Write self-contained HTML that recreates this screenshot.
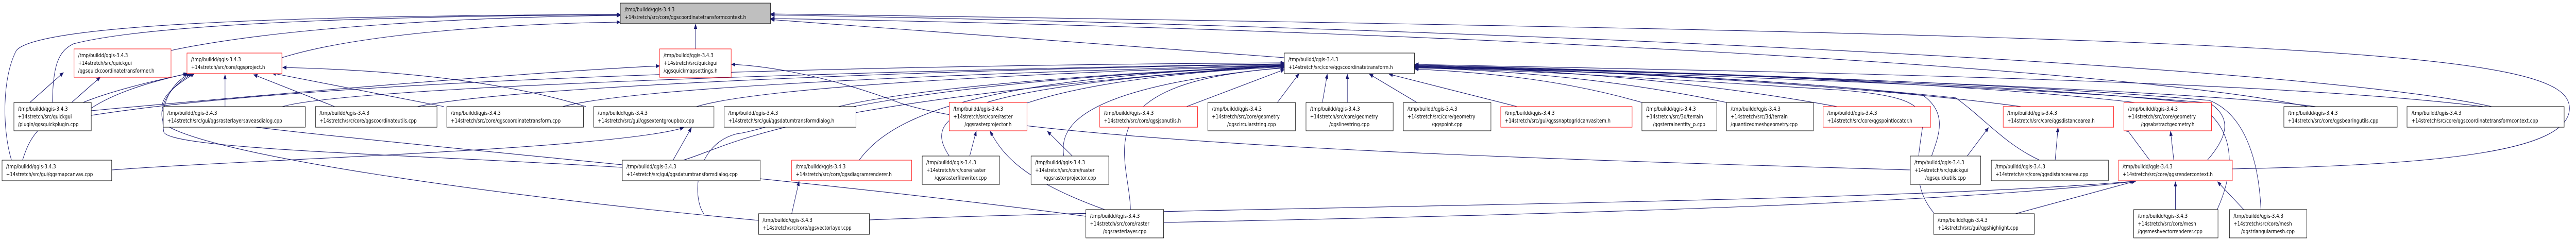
<!DOCTYPE html>
<html><head><meta charset="utf-8"><meta name="viewport" content="width=6296, initial-scale=1"><style>
html,body{margin:0;padding:0;background:#fff;width:100%;height:100%;overflow:hidden;}
svg{display:block;position:absolute;left:0;top:0;width:100vw;height:100vh;}
text{font-family:"DejaVu Sans","Liberation Sans",sans-serif;font-size:11px;fill:#000;}
.e{fill:none;stroke:#191970;stroke-width:1.1;marker-end:url(#a);}
.n{fill:#fff;stroke:#000;stroke-width:1;}
.r{fill:#fff;stroke:#ff0000;stroke-width:1;}
.g{fill:#bfbfbf;stroke:#000;stroke-width:1;}
</style></head><body>
<svg viewBox="0 0 6296 468" preserveAspectRatio="none" xmlns="http://www.w3.org/2000/svg">
<defs><marker id="a" markerWidth="10" markerHeight="8" refX="9" refY="4" orient="auto" markerUnits="userSpaceOnUse"><path d="M0,0 L10,4 L0,8 z" fill="#191970"/></marker></defs>

<path class="e" d="M418,98 C700,50 1200,32 1516,30"/>
<path class="e" d="M689,112 C900,60 1300,45 1516,43"/>
<path class="e" d="M1700,95 L1700,47"/>
<path class="e" d="M3139,112 C2600,80 2100,50 1884,38"/>
<path class="e" d="M128,199 C130,130 140,100 180,85 C400,40 1100,30 1516,29"/>
<path class="e" d="M28,311 C5,250 5,150 40,98 C100,40 900,30 1516,28"/>
<path class="e" d="M5456,328 C6000,320 6280,290 6280,210 C6280,100 5700,70 1884,27"/>
<path class="e" d="M6090,207 C5600,120 3400,50 1884,29"/>
<path class="e" d="M5640,207 C5200,130 3400,55 1884,36"/>

<path class="e" d="M73,199 L155,141"/>
<path class="e" d="M223,210 C300,170 420,150 457,143"/>
<path class="e" d="M550,207 L550,145"/>
<path class="e" d="M818,207 L620,145"/>
<path class="e" d="M1085,207 L665,142"/>
<path class="e" d="M1432,207 C1200,150 900,135 691,131"/>
<path class="e" d="M55,311 C80,250 110,200 460,143"/>
<path class="e" d="M1521,325 C1000,300 400,290 400,255 C390,200 420,160 465,143"/>
<path class="e" d="M1854,428 C1200,380 500,300 400,240 C380,200 430,160 470,143"/>
<path class="e" d="M2654,420 C1800,330 600,260 400,220 C380,190 440,160 475,143"/>

<path class="e" d="M175,199 L245,150"/>

<path class="e" d="M223,215 C700,180 1300,140 1612,128"/>
<path class="e" d="M4669,330 C3800,310 2500,280 2200,200 C2000,140 1850,127 1788,125"/>

<path class="e" d="M273,330 C600,310 1500,290 1671,248"/>
<path class="e" d="M1645,311 L1690,248"/>

<path class="e" d="M1935,415 L1953,352"/>
<path class="e" d="M2370,303 L2386,255"/>
<path class="e" d="M2621,303 L2560,255"/>
<path class="e" d="M2700,407 C2500,350 2450,300 2420,255"/>

<path class="e" d="M4808,303 L4860,248"/>
<path class="e" d="M5023,311 L5030,248"/>
<path class="e" d="M5254,311 L5195,248"/>
<path class="e" d="M5313,311 L5305,255"/>
<path class="e" d="M4926,415 L5218,352"/>
<path class="e" d="M5317,407 L5317,353"/>
<path class="e" d="M5484,407 L5420,353"/>
<path class="e" d="M2125,427 C3000,400 4600,395 5215,352"/>
<path class="e" d="M2844,432 C3600,420 4700,400 5220,352"/>

<path class="e" d="M223,224 C900,140 2500,125 3139,122"/>
<path class="e" d="M690,207 C900,160 2600,130 3139,124"/>
<path class="e" d="M1020,207 C1300,160 2600,130 3139,125"/>
<path class="e" d="M1375,207 C1600,160 2700,135 3139,126"/>
<path class="e" d="M1702,207 C1900,160 2800,135 3139,127"/>
<path class="e" d="M2049,207 C2300,160 2900,135 3139,128"/>
<path class="e" d="M2510,200 C2700,150 3000,135 3139,130"/>
<path class="e" d="M2900,207 L3139,135"/>
<path class="e" d="M3122,199 L3175,143"/>
<path class="e" d="M3232,199 L3244,144"/>
<path class="e" d="M3293,199 L3293,144"/>
<path class="e" d="M3463,199 L3347,144"/>
<path class="e" d="M3708,207 L3395,144"/>
<path class="e" d="M4013,199 C3800,150 3600,140 3458,134"/>
<path class="e" d="M4220,199 C3900,145 3600,135 3458,131"/>
<path class="e" d="M4490,207 C4100,150 3700,132 3458,129"/>
<path class="e" d="M4940,207 C4600,170 3900,135 3458,128"/>
<path class="e" d="M5218,199 C4800,160 3900,132 3458,127"/>
<path class="e" d="M5660,207 C5300,170 4000,140 3458,126"/>
<path class="e" d="M6070,207 C5500,150 4000,135 3458,125"/>
<path class="e" d="M4721,303 C4740,260 4760,220 4700,185 C4300,150 3800,135 3458,130"/>
<path class="e" d="M4985,311 C4900,280 4850,230 4780,190 C4300,150 3800,135 3458,132"/>
<path class="e" d="M5395,311 C5440,270 5460,230 5400,200 C4900,165 3900,138 3458,131"/>
<path class="e" d="M5419,407 C5480,300 5440,230 5360,200 C4900,160 3900,135 3458,130"/>
<path class="e" d="M5526,407 C5520,300 5480,220 5400,195 C4900,160 3900,133 3458,129"/>
<path class="e" d="M4726,413 C4670,360 4690,300 4700,240 C4700,200 4650,185 4500,175 C4000,150 3700,135 3458,132"/>
<path class="e" d="M2763,407 C2760,300 2640,160 3139,132"/>
<path class="e" d="M2320,303 C2260,230 2300,170 3139,128"/>
<path class="e" d="M2600,303 C2590,250 2620,170 3139,131"/>
<path class="e" d="M1670,311 C1800,280 1900,200 3139,126"/>
<path class="e" d="M1720,415 C1690,380 1700,280 1800,260 C1900,250 2100,160 3139,129"/>
<path class="e" d="M2100,311 C2200,200 2500,150 3139,127"/>

<g>
<rect class="g" x="1516" y="6" width="367" height="40"/>
<text x="1527" y="22">/tmp/buildd/qgis-3.4.3</text><text x="1527" y="37">+14stretch/src/core/qgscoordinatetransformcontext.h</text>

<rect class="r" x="181" y="95" width="237" height="55"/>
<text x="191" y="111">/tmp/buildd/qgis-3.4.3</text><text x="191" y="126">+14stretch/src/quickgui</text><text x="191" y="141">/qgsquickcoordinatetransformer.h</text>

<rect class="r" x="457" y="103" width="232" height="40"/>
<text x="467" y="119">/tmp/buildd/qgis-3.4.3</text><text x="467" y="134">+14stretch/src/core/qgsproject.h</text>

<rect class="r" x="1612" y="95" width="175" height="55"/>
<text x="1622" y="111">/tmp/buildd/qgis-3.4.3</text><text x="1622" y="126">+14stretch/src/quickgui</text><text x="1622" y="141">/qgsquickmapsettings.h</text>

<rect class="n" x="3139" y="103" width="318" height="40"/>
<text x="3149" y="119">/tmp/buildd/qgis-3.4.3</text><text x="3149" y="134">+14stretch/src/core/qgscoordinatetransform.h</text>

<rect class="n" x="34" y="199" width="189" height="55"/>
<text x="44" y="215">/tmp/buildd/qgis-3.4.3</text><text x="44" y="230">+14stretch/src/quickgui</text><text x="44" y="245">/plugin/qgsquickplugin.cpp</text>

<rect class="n" x="399" y="207" width="347" height="40"/>
<text x="409" y="223">/tmp/buildd/qgis-3.4.3</text><text x="409" y="238">+14stretch/src/gui/qgsrasterlayersaveasdialog.cpp</text>

<rect class="n" x="771" y="207" width="297" height="40"/>
<text x="781" y="223">/tmp/buildd/qgis-3.4.3</text><text x="781" y="238">+14stretch/src/core/qgscoordinateutils.cpp</text>

<rect class="n" x="1092" y="207" width="334" height="40"/>
<text x="1102" y="223">/tmp/buildd/qgis-3.4.3</text><text x="1102" y="238">+14stretch/src/core/qgscoordinatetransform.cpp</text>

<rect class="n" x="1451" y="207" width="294" height="40"/>
<text x="1461" y="223">/tmp/buildd/qgis-3.4.3</text><text x="1461" y="238">+14stretch/src/gui/qgsextentgroupbox.cpp</text>

<rect class="n" x="1770" y="207" width="322" height="40"/>
<text x="1780" y="223">/tmp/buildd/qgis-3.4.3</text><text x="1780" y="238">+14stretch/src/gui/qgsdatumtransformdialog.h</text>

<rect class="r" x="2320" y="199" width="190" height="55"/>
<text x="2330" y="215">/tmp/buildd/qgis-3.4.3</text><text x="2330" y="230">+14stretch/src/core/raster</text><text x="2415" y="245" text-anchor="middle">/qgsrasterprojector.h</text>

<rect class="r" x="2688" y="207" width="239" height="40"/>
<text x="2698" y="223">/tmp/buildd/qgis-3.4.3</text><text x="2698" y="238">+14stretch/src/core/qgsjsonutils.h</text>

<rect class="n" x="2952" y="199" width="214" height="55"/>
<text x="2962" y="215">/tmp/buildd/qgis-3.4.3</text><text x="2962" y="230">+14stretch/src/core/geometry</text><text x="3059" y="245" text-anchor="middle">/qgscircularstring.cpp</text>

<rect class="n" x="3192" y="199" width="213" height="55"/>
<text x="3202" y="215">/tmp/buildd/qgis-3.4.3</text><text x="3202" y="230">+14stretch/src/core/geometry</text><text x="3298" y="245" text-anchor="middle">/qgslinestring.cpp</text>

<rect class="n" x="3430" y="199" width="214" height="55"/>
<text x="3440" y="215">/tmp/buildd/qgis-3.4.3</text><text x="3440" y="230">+14stretch/src/core/geometry</text><text x="3537" y="245" text-anchor="middle">/qgspoint.cpp</text>

<rect class="r" x="3668" y="207" width="321" height="40"/>
<text x="3678" y="223">/tmp/buildd/qgis-3.4.3</text><text x="3678" y="238">+14stretch/src/gui/qgssnaptogridcanvasitem.h</text>

<rect class="n" x="4013" y="199" width="183" height="55"/>
<text x="4023" y="215">/tmp/buildd/qgis-3.4.3</text><text x="4023" y="230">+14stretch/src/3d/terrain</text><text x="4104" y="245" text-anchor="middle">/qgsterrainentity_p.cpp</text>

<rect class="n" x="4220" y="199" width="212" height="55"/>
<text x="4230" y="215">/tmp/buildd/qgis-3.4.3</text><text x="4230" y="230">+14stretch/src/3d/terrain</text><text x="4230" y="245">/quantizedmeshgeometry.cpp</text>

<rect class="r" x="4456" y="207" width="263" height="40"/>
<text x="4466" y="223">/tmp/buildd/qgis-3.4.3</text><text x="4466" y="238">+14stretch/src/core/qgspointlocator.h</text>

<rect class="r" x="4896" y="207" width="270" height="40"/>
<text x="4906" y="223">/tmp/buildd/qgis-3.4.3</text><text x="4906" y="238">+14stretch/src/core/qgsdistancearea.h</text>

<rect class="r" x="5191" y="199" width="214" height="55"/>
<text x="5201" y="215">/tmp/buildd/qgis-3.4.3</text><text x="5201" y="230">+14stretch/src/core/geometry</text><text x="5298" y="245" text-anchor="middle">/qgsabstractgeometry.h</text>

<rect class="n" x="5582" y="207" width="277" height="40"/>
<text x="5592" y="223">/tmp/buildd/qgis-3.4.3</text><text x="5592" y="238">+14stretch/src/core/qgsbearingutils.cpp</text>

<rect class="n" x="5883" y="207" width="384" height="40"/>
<text x="5894" y="223">/tmp/buildd/qgis-3.4.3</text><text x="5894" y="238">+14stretch/src/core/qgscoordinatetransformcontext.cpp</text>

<rect class="n" x="5" y="311" width="268" height="40"/>
<text x="15" y="327">/tmp/buildd/qgis-3.4.3</text><text x="15" y="342">+14stretch/src/gui/qgsmapcanvas.cpp</text>

<rect class="n" x="1521" y="311" width="337" height="40"/>
<text x="1531" y="327">/tmp/buildd/qgis-3.4.3</text><text x="1531" y="342">+14stretch/src/gui/qgsdatumtransformdialog.cpp</text>

<rect class="r" x="1935" y="311" width="293" height="40"/>
<text x="1945" y="327">/tmp/buildd/qgis-3.4.3</text><text x="1945" y="342">+14stretch/src/core/qgsdiagramrenderer.h</text>

<rect class="n" x="2254" y="303" width="189" height="55"/>
<text x="2264" y="319">/tmp/buildd/qgis-3.4.3</text><text x="2264" y="334">+14stretch/src/core/raster</text><text x="2348" y="349" text-anchor="middle">/qgsrasterfilewriter.cpp</text>

<rect class="n" x="2520" y="303" width="190" height="55"/>
<text x="2530" y="319">/tmp/buildd/qgis-3.4.3</text><text x="2530" y="334">+14stretch/src/core/raster</text><text x="2615" y="349" text-anchor="middle">/qgsrasterprojector.cpp</text>

<rect class="n" x="4669" y="303" width="172" height="55"/>
<text x="4679" y="319">/tmp/buildd/qgis-3.4.3</text><text x="4679" y="334">+14stretch/src/quickgui</text><text x="4755" y="349" text-anchor="middle">/qgsquickutils.cpp</text>

<rect class="n" x="4867" y="311" width="286" height="40"/>
<text x="4877" y="327">/tmp/buildd/qgis-3.4.3</text><text x="4877" y="342">+14stretch/src/core/qgsdistancearea.cpp</text>

<rect class="r" x="5178" y="311" width="278" height="40"/>
<text x="5188" y="327">/tmp/buildd/qgis-3.4.3</text><text x="5188" y="342">+14stretch/src/core/qgsrendercontext.h</text>

<rect class="n" x="1854" y="415" width="271" height="40"/>
<text x="1864" y="431">/tmp/buildd/qgis-3.4.3</text><text x="1864" y="446">+14stretch/src/core/qgsvectorlayer.cpp</text>

<rect class="n" x="2654" y="407" width="190" height="55"/>
<text x="2664" y="423">/tmp/buildd/qgis-3.4.3</text><text x="2664" y="438">+14stretch/src/core/raster</text><text x="2749" y="453" text-anchor="middle">/qgsrasterlayer.cpp</text>

<rect class="n" x="4726" y="415" width="246" height="40"/>
<text x="4736" y="431">/tmp/buildd/qgis-3.4.3</text><text x="4736" y="446">+14stretch/src/gui/qgshighlight.cpp</text>

<rect class="n" x="5215" y="407" width="206" height="55"/>
<text x="5225" y="423">/tmp/buildd/qgis-3.4.3</text><text x="5225" y="438">+14stretch/src/core/mesh</text><text x="5225" y="453">/qgsmeshvectorrenderer.cpp</text>

<rect class="n" x="5449" y="407" width="189" height="55"/>
<text x="5459" y="423">/tmp/buildd/qgis-3.4.3</text><text x="5459" y="438">+14stretch/src/core/mesh</text><text x="5543" y="453" text-anchor="middle">/qgstriangularmesh.cpp</text>
</g>
</svg>
</body></html>
